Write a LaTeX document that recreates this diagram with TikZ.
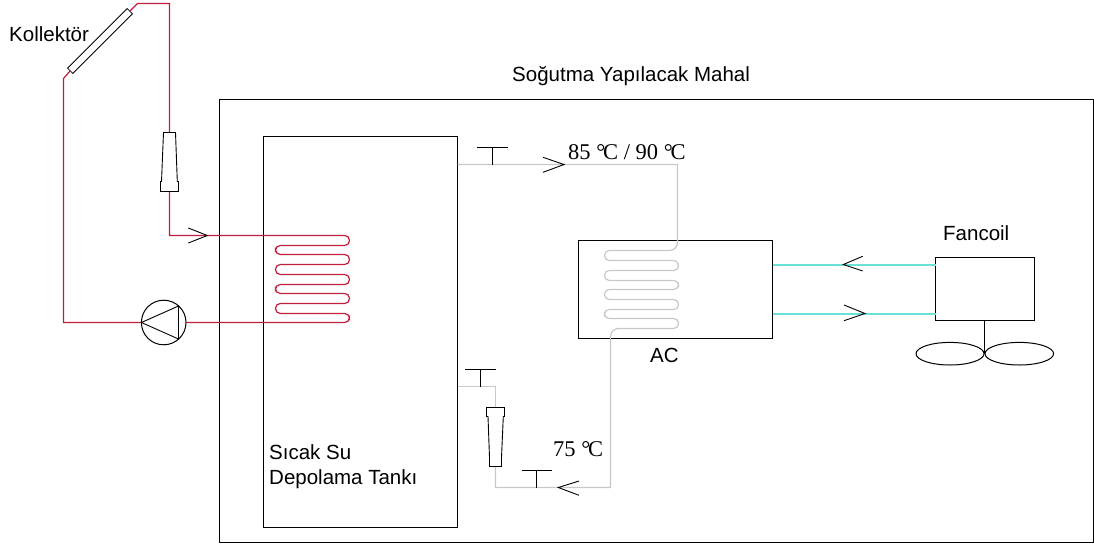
\documentclass[tikz,border=0pt]{standalone}
\usepackage{fontspec}
\setmainfont{Liberation Sans}
\newfontfamily\serifnum{Liberation Serif}
\usetikzlibrary{shapes.geometric}
\definecolor{pipered}{RGB}{192,30,60}
\definecolor{pipegray}{RGB}{200,200,200}
\definecolor{pipecyan}{RGB}{105,224,216}
\newcommand{\degC}{°\kern-2.2pt C}
\tikzset{
  boxnode/.style={draw=black,line width=1pt,fill=none,inner sep=0pt,outer sep=0pt},
  redpipe/.style={draw=pipered,line width=1.2pt},
  graypipe/.style={draw=pipegray,line width=1.2pt},
  cyanpipe/.style={draw=pipecyan,line width=2pt},
  symbol/.style={draw=black,line width=0.9pt},
  label/.style={font=\fontsize{20.5}{24}\selectfont,anchor=base west,inner sep=0pt},
  temp/.style={font=\serifnum\fontsize{22.5}{26}\selectfont,anchor=base west,inner sep=0pt}
}
\begin{document}
\begin{tikzpicture}[x=1pt,y=-1pt]
\useasboundingbox (0,0) rectangle (1094,546);
\fill[white] (0,0) rectangle (1094,546);
% boxes
\node[boxnode,minimum width=874pt,minimum height=443pt] (room) at (656.5,320.5) {};
\node[boxnode,minimum width=194pt,minimum height=391pt] (tank) at (360.5,331.5) {};
\node[boxnode,minimum width=194pt,minimum height=98pt] (ac) at (675.5,289.5) {};
\node[boxnode,minimum width=99pt,minimum height=63pt] (fancoil) at (985,289) {};
\node[boxnode,line width=0.8pt,rotate=45,minimum width=84.4pt,minimum height=7.5pt] (collector) at (100,41) {};
\node[boxnode,circle,minimum size=44.6pt] (pump) at (163.7,322.5) {};
\node[boxnode,ellipse,minimum width=68pt,minimum height=22.6pt] (fanL) at (950,353.7) {};
\node[boxnode,ellipse,minimum width=68.6pt,minimum height=22.6pt] (fanR) at (1019.3,353.7) {};
% pipe waypoints
\coordinate (cTopIn) at (collector.east);
\coordinate (cBotOut) at (collector.west);
\coordinate (valveAtop) at (169.5,132.5);
\coordinate (valveAbot) at (169.5,191.5);
\coordinate (valveBtop) at (495.5,407.5);
\coordinate (valveBbot) at (495.5,466.5);
\coordinate (acUp) at (ac.east |- 0,264.5);
\coordinate (fanUp) at (fancoil.west |- 0,264.5);
\coordinate (acLow) at (ac.east |- 0,313.5);
\coordinate (fanLow) at (fancoil.west |- 0,313.5);
% cyan circuit
\draw[cyanpipe] (acUp) -- (fanUp) (acLow) -- (fanLow);
% red circuit
\draw[redpipe] (cTopIn) -- (137.5,3.5) -- (169.5,3.5) -- (valveAtop);
\draw[redpipe] (cBotOut) -- (63.5,78.5) -- (63.5,322.5) -- (pump.west);
\draw[redpipe] (valveAbot) -- (169.5,235.5) -- (340,235.5)
  [rounded corners=4.8pt] -- (349.5,235.5) -- (349.5,245.5) -- (275.5,245.5) -- (275.5,254.5)
  -- (349.5,254.5) -- (349.5,264.5) -- (275.5,264.5) -- (275.5,274.5)
  -- (349.5,274.5) -- (349.5,284.5) -- (275.5,284.5) -- (275.5,293.5)
  -- (349.5,293.5) -- (349.5,303.5) -- (275.5,303.5) -- (275.5,313.5)
  -- (349.5,313.5) -- (349.5,322.5) -- (300,322.5) [sharp corners] -- (pump.east);
% gray circuit
\draw[graypipe] (457.5,164.5) -- (677.5,164.5) -- (677.5,238)
  [rounded corners=8pt] -- (677.5,250.5) -- (660,250.5) [rounded corners=4.8pt] -- (604.5,250.5) -- (604.5,260.5)
  -- (678.5,260.5) -- (678.5,270.5) -- (604.5,270.5) -- (604.5,280.5)
  -- (678.5,280.5) -- (678.5,289.5) -- (604.5,289.5) -- (604.5,299.5)
  -- (678.5,299.5) -- (678.5,309.5) -- (604.5,309.5) -- (604.5,318.5)
  -- (678.5,318.5) -- (678.5,328.5) -- (630,328.5) [rounded corners=8pt] -- (610.5,328.5) -- (610.5,345)
  [sharp corners] -- (610.5,487.5) -- (495.5,487.5) -- (valveBbot);
\draw[graypipe] (valveBtop) -- (495.5,386.5) -- (457.5,386.5);
% fan stem
\draw[boxnode] (fancoil.south -| 984.5,0) -- (984.5,353.5);
% valves
\draw[symbol,fill=white] (163.5,132.5) -- (175.5,132.5) -- (177.3,181.5) -- (178.5,181.5) -- (178.5,191.5) -- (160.5,191.5) -- (160.5,181.5) -- (161.5,181.5) -- cycle;
\draw[symbol,fill=white] (486.5,407.5) -- (504.5,407.5) -- (504.5,416.5) -- (503.3,416.5) -- (501.5,457.5) -- (501.5,466.5) -- (489.5,466.5) -- (489.5,457.5) -- (488,416.5) -- (486.5,416.5) -- cycle;
% pump triangle
\draw[symbol] (pump.west) -- (178.5,306) -- (178.5,339) -- cycle;
% open arrows
\draw[symbol] (188.3,228) -- (207.3,235.5) -- (188.3,243);
\draw[symbol] (543,157.3) -- (564,164.5) -- (543,172.3);
\draw[symbol] (579,481) -- (558.3,487.5) -- (579,495.3);
\draw[symbol] (862.7,256.3) -- (843.3,264.5) -- (862.7,271);
\draw[symbol] (844,305) -- (865,313.5) -- (844,320.7);
% T sensors
\draw[symbol] (492.5,164.5) -- (492.5,147.5) (477,147.5) -- (507.7,147.5);
\draw[symbol] (480.5,386.5) -- (480.5,369.5) (465,369.5) -- (495.7,369.5);
\draw[symbol] (536.5,487.5) -- (536.5,470.5) (522.3,470.5) -- (551.7,470.5);
% labels
\node[label] (tKoll) at (9,41) {Kollektör};
\node[label] (tRoom) at (512,81) {Soğutma Yapılacak Mahal};
\node[label] (tTank1) at (269,459) {Sıcak Su};
\node[label] (tTank2) at (269,484) {Depolama Tankı};
\node[label] (tAC) at (650,362) {AC};
\node[label] (tFan) at (943,240) {Fancoil};
\node[temp] (t85) at (568,159) {85 \degC{} / 90 \degC};
\node[temp] (t75) at (553,456) {75 \degC};
\end{tikzpicture}
\end{document}
